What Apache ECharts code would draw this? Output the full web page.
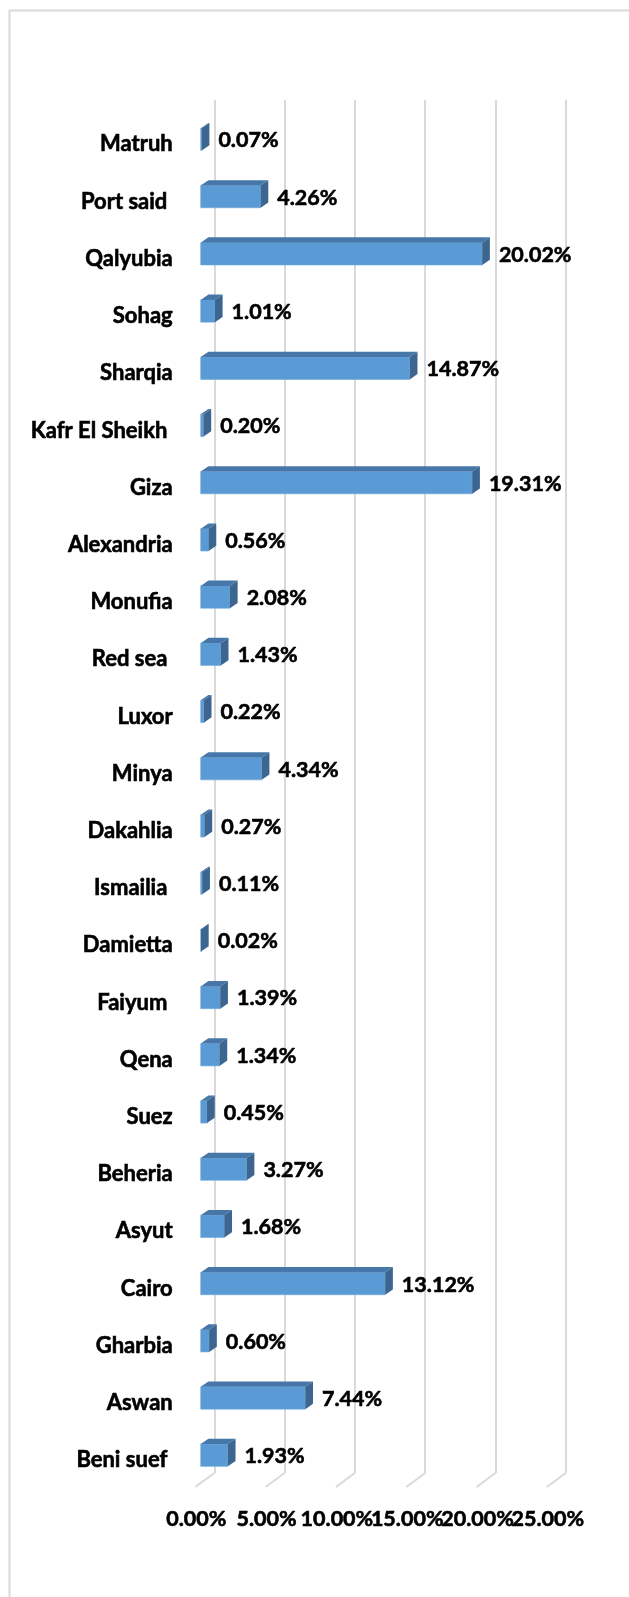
<!DOCTYPE html>
<html>
<head>
<meta charset="utf-8">
<script src="https://cdn.jsdelivr.net/npm/echarts@6/dist/echarts.min.js"></script>
<style>
html,body{margin:0;padding:0;background:#fff;}
#c{width:629px;height:1597px;}
</style>
</head>
<body>
<div id="c"></div>
<script>
const categories = ['Matruh','Port said ','Qalyubia','Sohag','Sharqia','Kafr El Sheikh ','Giza','Alexandria','Monufia','Red sea ','Luxor','Minya','Dakahlia','Ismailia ','Damietta','Faiyum ','Qena','Suez','Beheria','Asyut','Cairo','Gharbia','Aswan','Beni suef '];
const values = [0.07,4.26,20.02,1.01,14.87,0.20,19.31,0.56,2.08,1.43,0.22,4.34,0.27,0.11,0.02,1.39,1.34,0.45,3.27,1.68,13.12,0.60,7.44,1.93];
const tickValues = [0,5,10,15,20,25];
const tickLabels = ['0.00%','5.00%','10.00%','15.00%','20.00%','25.00%'];

const FONT = 'Lato';
const OX = -13.6, OY = 10.8, DX = 7.7, DY = -5.3, BH = 22.3;
const FX = -19, FY = 14;
const TS = 0.6;

const chart = echarts.init(document.getElementById('c'), null, {renderer:'canvas'});

function barItem(params, api) {
  const v = api.value(0), i = api.value(1);
  const cs = params.coordSys;
  const s = api.coord([0, i]);
  const e = api.coord([v, i]);
  const x0 = s[0] + OX, x1 = e[0] + OX;
  const yc = s[1] + OY;
  const yt = yc - BH/2, yb = yc + BH/2;
  return {
    type: 'group',
    children: [
      {type:'rect', shape:{x:x0, y:yt, width:Math.max(x1-x0,0.8), height:BH},
       style:{fill:'#5b9bd5', stroke:'#6aa6dc', lineWidth:0.6}},
      {type:'polygon', shape:{points:[[x0,yt],[x1,yt],[x1+DX,yt+DY],[x0+DX,yt+DY]]},
       style:{fill:'#4677a8'}},
      {type:'polygon', shape:{points:[[x1,yt],[x1+DX,yt+DY],[x1+DX,yb+DY],[x1,yb]]},
       style:{fill:'#3c6690'}},
      {type:'text', style:{text: v.toFixed(2)+'%', x:x1+DX+9, y:yc+1, align:'left', verticalAlign:'middle',
        font:'bold 21.5px ' + FONT, fill:'#000', stroke:'#000', lineWidth:TS}},
      {type:'text', style:{text: categories[i], x:cs.x - 41.6, y:yc+5, align:'right', verticalAlign:'middle',
        font:'bold 22px ' + FONT, fill:'#000', stroke:'#000', lineWidth:TS}}
    ]
  };
}

function floorItem(params, api) {
  const v = api.value(0);
  const cs = params.coordSys;
  const x = api.coord([v, 0])[0];
  const y = cs.y + cs.height;
  const k = tickValues.indexOf(v);
  return {type:'group', children:[
    {type:'line', shape:{x1:x, y1:y, x2:x+FX, y2:y+FY},
      style:{stroke:'#d9d9d9', lineWidth:2}},
    {type:'text', style:{text: tickLabels[k], x:x+FX+1, y:1519, align:'center', verticalAlign:'middle',
      font:'bold 21.5px ' + FONT, fill:'#000', stroke:'#000', lineWidth:TS}}
  ]};
}

chart.setOption({
  animation:false,
  backgroundColor:'#fff',
  graphic:[{type:'rect', shape:{x:9.5, y:10.5, width:800, height:1800},
    style:{fill:'none', stroke:'#d9d9d9', lineWidth:2}, z:-10}],
  grid:{left:214.3, top:100, width:351.5, height:1373, containLabel:false},
  xAxis:{type:'value', min:0, max:25, interval:5,
    axisLine:{show:false}, axisTick:{show:false}, axisLabel:{show:false},
    splitLine:{show:true, lineStyle:{color:'#d9d9d9', width:2}}},
  yAxis:{type:'category', inverse:true, data:categories,
    axisLine:{show:false}, axisTick:{show:false}, splitLine:{show:false},
    axisLabel:{show:false}},
  series:[
    {type:'custom', renderItem:floorItem, data:tickValues.map(v=>[v,0]), silent:true, z:1},
    {type:'custom', renderItem:barItem, data:values.map((v,i)=>[v,i]), z:2}
  ]
});
</script>
</body>
</html>
